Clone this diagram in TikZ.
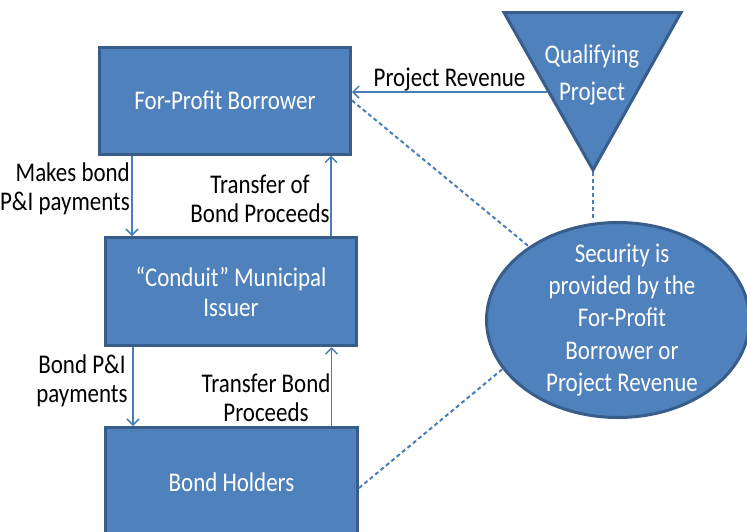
\documentclass[tikz,border=0pt]{standalone}
\usepackage{fontspec}
\setmainfont{Carlito}[FakeStretch=0.85]
\usetikzlibrary{arrows.meta,shapes.geometric,positioning}
\definecolor{boxfill}{HTML}{4F81BD}
\definecolor{boxline}{HTML}{385D8A}
\definecolor{linkcol}{HTML}{4A7EBB}

\begin{document}
\begin{tikzpicture}[x=1pt,y=-1pt,
    block/.style={rectangle, draw=boxline, line width=3pt, fill=boxfill, text=white, minimum width=251pt, minimum height=107pt, font=\fontsize{27}{30}\selectfont, align=center},
    arrow/.style={-{Straight Barb[length=6pt,width=12pt]}, line width=1.5pt, draw=linkcol},
    link/.style={dash pattern=on 4pt off 3pt, line width=2pt, draw=linkcol},
    lbl/.style={font=\fontsize{27}{29}\selectfont, inner sep=0pt, align=center}
]
\useasboundingbox (0,0) rectangle (747,531);

\node[block] (fpb) at (225,100.5) {For-Profit Borrower};
\node[block, minimum height=108pt] (cmi) at (231,291.5) {“Conduit” Municipal\\Issuer};
\node[block, minimum width=252pt, minimum height=109pt] (bh) at (231.5,482) {Bond Holders};

% qualifying project
\draw[boxline, line width=3pt, fill=boxfill] (504,12.5) -- (681,12.5) -- (593,170) -- cycle;
\node[lbl, text=white, font=\fontsize{27}{37}\selectfont] (qual) at (592,75) {Qualifying\\Project};
\coordinate (qtip) at (593,172);
\coordinate (qside) at (547,92);

% security
\node[ellipse, draw=boxline, line width=3pt, fill=boxfill, minimum width=263pt, minimum height=195pt, inner sep=0pt] (sec) at (618,320) {};
\node[lbl, text=white, font=\fontsize{27}{32.25}\selectfont] (sectxt) at (622,320) {Security is\\provided by the\\For-Profit\\Borrower or\\Project Revenue};

\draw[arrow] ([xshift=-93pt]fpb.south) -- ([xshift=-93pt]fpb.south |- cmi.north);
\draw[arrow] ([xshift=100pt]cmi.north) -- ([xshift=100pt]cmi.north |- fpb.south);
\draw[arrow] ([xshift=-98pt]cmi.south) -- ([xshift=-98pt]cmi.south |- bh.north);
\draw[arrow] ([xshift=100pt]bh.north) -- ([xshift=100pt]bh.north |- cmi.south);
\draw[arrow] (qside) -- (qside -| fpb.east) node[lbl, midway, above] {Project Revenue};

\node[lbl, anchor=east, align=right] (makes) at (130,189) {Makes bond\\P\&I payments};
\node[lbl] (trof) at (260,199) {Transfer of\\Bond Proceeds};
\node[lbl] (bpi) at (82,381) {Bond P\&I\\payments};
\node[lbl] (trbond) at (266,398) {Transfer Bond\\Proceeds};

\draw[link] (fpb.east) -- (sec);
\draw[link] (qtip) -- (qtip |- sec.north);
\draw[link] ([yshift=-6pt]bh.east) -- (sec.203);
\end{tikzpicture}
\end{document}
